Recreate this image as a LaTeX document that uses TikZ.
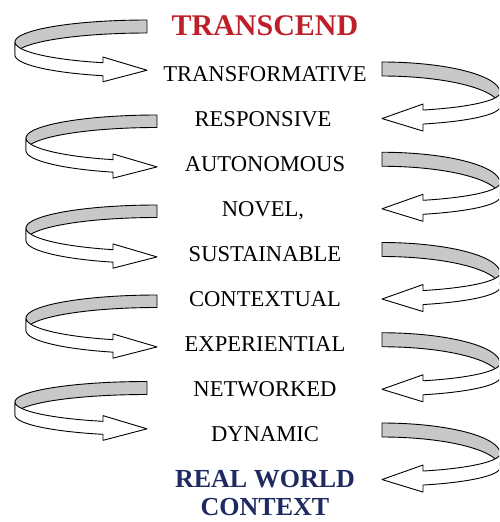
\documentclass[tikz,border=0pt]{standalone}
\usepackage{fontspec}
\setmainfont{Liberation Serif}
\definecolor{ribgray}{RGB}{200,200,200}
\definecolor{tred}{RGB}{190,32,42}
\definecolor{tblue}{RGB}{31,42,96}
\tikzset{
  ribbon/.style={draw=black, line width=0.9pt, line join=round},
  word/.style={font=\fontsize{22.6}{22.6}\selectfont, inner sep=0pt, anchor=base},
  head/.style={font=\fontsize{30}{30}\selectfont\bfseries, inner sep=0pt, anchor=base, text=tred},
  foot/.style={font=\fontsize{26}{26}\selectfont\bfseries, inner sep=0pt, anchor=base, text=tblue},
}
% left ribbon: cx, cy, a, b, h
\newcommand{\LRib}[5]{%
  \pgfmathsetmacro{\ta}{180+acos(44/#3)}%
  \pgfmathsetmacro{\yT}{#2-#4*sin(\ta)}%
  \draw[ribbon, fill=ribgray] plot[domain=90:180,samples=50] ({#1+#3*cos(\x)},{#2-#4*sin(\x)}) -- plot[domain=180:90,samples=50] ({#1+#3*cos(\x)},{#2+#5-#4*sin(\x)}) -- cycle;
  \draw[ribbon, fill=white] plot[domain=180:\ta,samples=50] ({#1+#3*cos(\x)},{#2-#4*sin(\x)}) -- ({#1-44},{\yT-5.7}) -- ({#1},{\yT+#5/2+1}) -- ({#1-44},{\yT+#5+6}) -- plot[domain=\ta:180,samples=50] ({#1+#3*cos(\x)},{#2+#5-#4*sin(\x)}) -- cycle;
}
% right ribbon: cx, cy, a, b(back), b(front), h
\newcommand{\RRib}[6]{%
  \pgfmathsetmacro{\ta}{-acos(41/#3)}%
  \pgfmathsetmacro{\yT}{#2-#5*sin(\ta)}%
  \draw[ribbon, fill=ribgray] plot[domain=90:0,samples=50] ({#1+#3*cos(\x)},{#2-#4*sin(\x)}) -- plot[domain=0:90,samples=50] ({#1+#3*cos(\x)},{#2+#6-#4*sin(\x)}) -- cycle;
  \draw[ribbon, fill=white] plot[domain=0:\ta,samples=50] ({#1+#3*cos(\x)},{#2-#5*sin(\x)}) -- ({#1+41},{\yT-6}) -- ({#1},{\yT+#6/2+1.5}) -- ({#1+41},{\yT+#6+7}) -- plot[domain=\ta:0,samples=50] ({#1+#3*cos(\x)},{#2+#6-#5*sin(\x)}) -- cycle;
}
\begin{document}
\begin{tikzpicture}[x=1pt, y=-1pt]
\path[use as bounding box] (0,0) rectangle (499,522);
\begin{scope}
\clip (0,0) rectangle (499,522);
% left ribbons
\LRib{147}{42}{132}{22}{13}
\LRib{157}{138}{131}{23}{12.5}
\LRib{157}{228}{131}{23}{12.5}
\LRib{157}{318}{131}{23}{12.5}
\LRib{147}{402}{132}{20.5}{13}
% right ribbons
\RRib{382}{92.6}{118}{30.6}{18.6}{14}
\RRib{382}{182.85}{118}{30.6}{18.6}{14}
\RRib{382}{273.1}{118}{30.6}{18.6}{14}
\RRib{382}{363.35}{118}{30.6}{18.6}{14}
\RRib{382}{453.6}{118}{30.6}{18.6}{14}
\end{scope}
% texts
\node[head] (top) at (265,35) {TRANSCEND};
\node[word] (w1) at (265,81.7) {TRANSFORMATIVE};
\node[word] (w2) at (263,126.7) {RESPONSIVE};
\node[word] (w3) at (265,171.7) {AUTONOMOUS};
\node[word] (w4) at (263,216.7) {NOVEL,};
\node[word] (w5) at (265,261.7) {SUSTAINABLE};
\node[word] (w6) at (265,306.7) {CONTEXTUAL};
\node[word] (w7) at (265,351.7) {EXPERIENTIAL};
\node[word] (w8) at (265,396.7) {NETWORKED};
\node[word] (w9) at (265,441.7) {DYNAMIC};
\node[foot] (b1) at (265,487) {REAL WORLD};
\node[foot] (b2) at (265,515) {CONTEXT};
\end{tikzpicture}
\end{document}
